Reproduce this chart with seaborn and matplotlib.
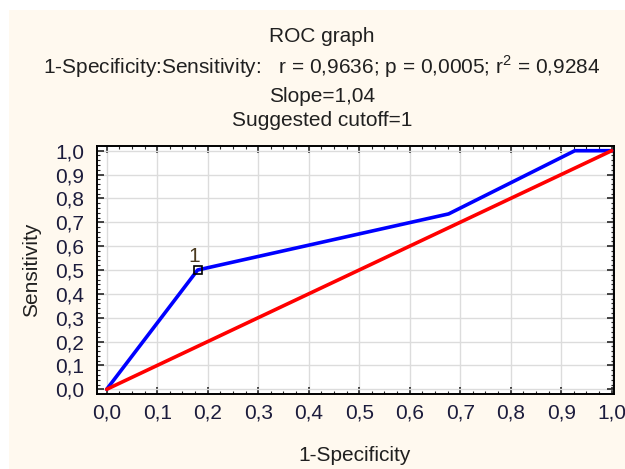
import matplotlib
matplotlib.use("Agg")
import matplotlib.pyplot as plt
import seaborn as sns
import pandas as pd
from matplotlib.ticker import MultipleLocator, FuncFormatter
from matplotlib.patches import Rectangle

# Data
roc_x = [0.0, 0.18, 0.677, 0.927, 1.0]
roc_y = [0.0, 0.5, 0.735, 1.0, 1.0]
ref_x = [0.0, 1.0]
ref_y = [0.0, 1.0]
cutoff_x = [0.18]
cutoff_y = [0.5]
cutoff_label = ["1"]
title_lines = ["ROC graph",
               "1-Specificity:Sensitivity:   r = 0,9636; p = 0,0005; r$^2$ = 0,9284",
               "Slope=1,04",
               "Suggested cutoff=1"]

sns.set_style("ticks")
plt.rcParams['font.family'] = ['Liberation Sans', 'DejaVu Sans']
plt.rcParams['mathtext.fontset'] = 'custom'
plt.rcParams['mathtext.rm'] = 'Liberation Sans'

fig = plt.figure(figsize=(6.25, 4.69), dpi=100)
fig.patch.set_facecolor('white')
fig.patches.append(Rectangle((9/625, 0), 1, 1 - 10/469, transform=fig.transFigure,
                             facecolor='#FFF9EF', edgecolor='none', zorder=-10))

ax = fig.add_axes([97/625, 1 - 394/469, 517/625, 248/469])
ax.set_facecolor('white')

df_roc = pd.DataFrame({'x': roc_x, 'y': roc_y})
df_ref = pd.DataFrame({'x': ref_x, 'y': ref_y})
sns.lineplot(data=df_roc, x='x', y='y', ax=ax, color='#0000FF', lw=2.6, sort=False, zorder=3)
sns.lineplot(data=df_ref, x='x', y='y', ax=ax, color='#FF0000', lw=2.6, sort=False, zorder=4)
ax.plot(cutoff_x, cutoff_y, marker='s', ms=6, mfc='none', mec='black', mew=1.2, ls='none', zorder=5)
for xv, yv, lab in zip(cutoff_x, cutoff_y, cutoff_label):
    ax.annotate(lab, (xv, yv), xytext=(-2.5, 5.5), textcoords='offset points',
                ha='center', va='baseline', fontsize=15, color='#4a3a20')

ax.set_xlim(-0.0192, 1.0046)
ax.set_ylim(-0.0197, 1.0197)
ax.xaxis.set_major_locator(MultipleLocator(0.1))
ax.yaxis.set_major_locator(MultipleLocator(0.1))
ax.xaxis.set_minor_locator(MultipleLocator(0.025))
ax.yaxis.set_minor_locator(MultipleLocator(0.02))
fmt = FuncFormatter(lambda v, p: f"{v:.1f}".replace('.', ','))
ax.xaxis.set_major_formatter(fmt)
ax.yaxis.set_major_formatter(fmt)
ax.grid(True, which='major', color='#dcdcdc', lw=1.0)
ax.set_axisbelow(True)
ax.tick_params(which='major', direction='in', length=5, width=1.2, top=True, right=True,
               labelsize=15, labelcolor='#1c1c3c')
ax.tick_params(axis='x', which='major', pad=7)
ax.tick_params(axis='y', which='major', pad=9)
ax.tick_params(which='minor', direction='in', length=2.5, width=0.8, top=True, right=True)
for s in ax.spines.values():
    s.set_linewidth(1.4)
    s.set_color('black')
    s.set_visible(True)

ax.set_xlabel("1-Specificity", fontsize=15, color='#202020', va='center')
ax.set_ylabel("Sensitivity", fontsize=15, color='#202020', va='center')
ax.xaxis.set_label_coords((355 - 97) / 517, (394 - 455) / 248)
ax.yaxis.set_label_coords((32 - 97) / 517, (394 - 270) / 248)

ys = [37, 67, 97, 121]
for t, yv in zip(title_lines, ys):
    fig.text(322/625, 1 - yv/469, t, ha='center', va='center', fontsize=15, color='#202020')

fig.savefig("out.png", dpi=100)
